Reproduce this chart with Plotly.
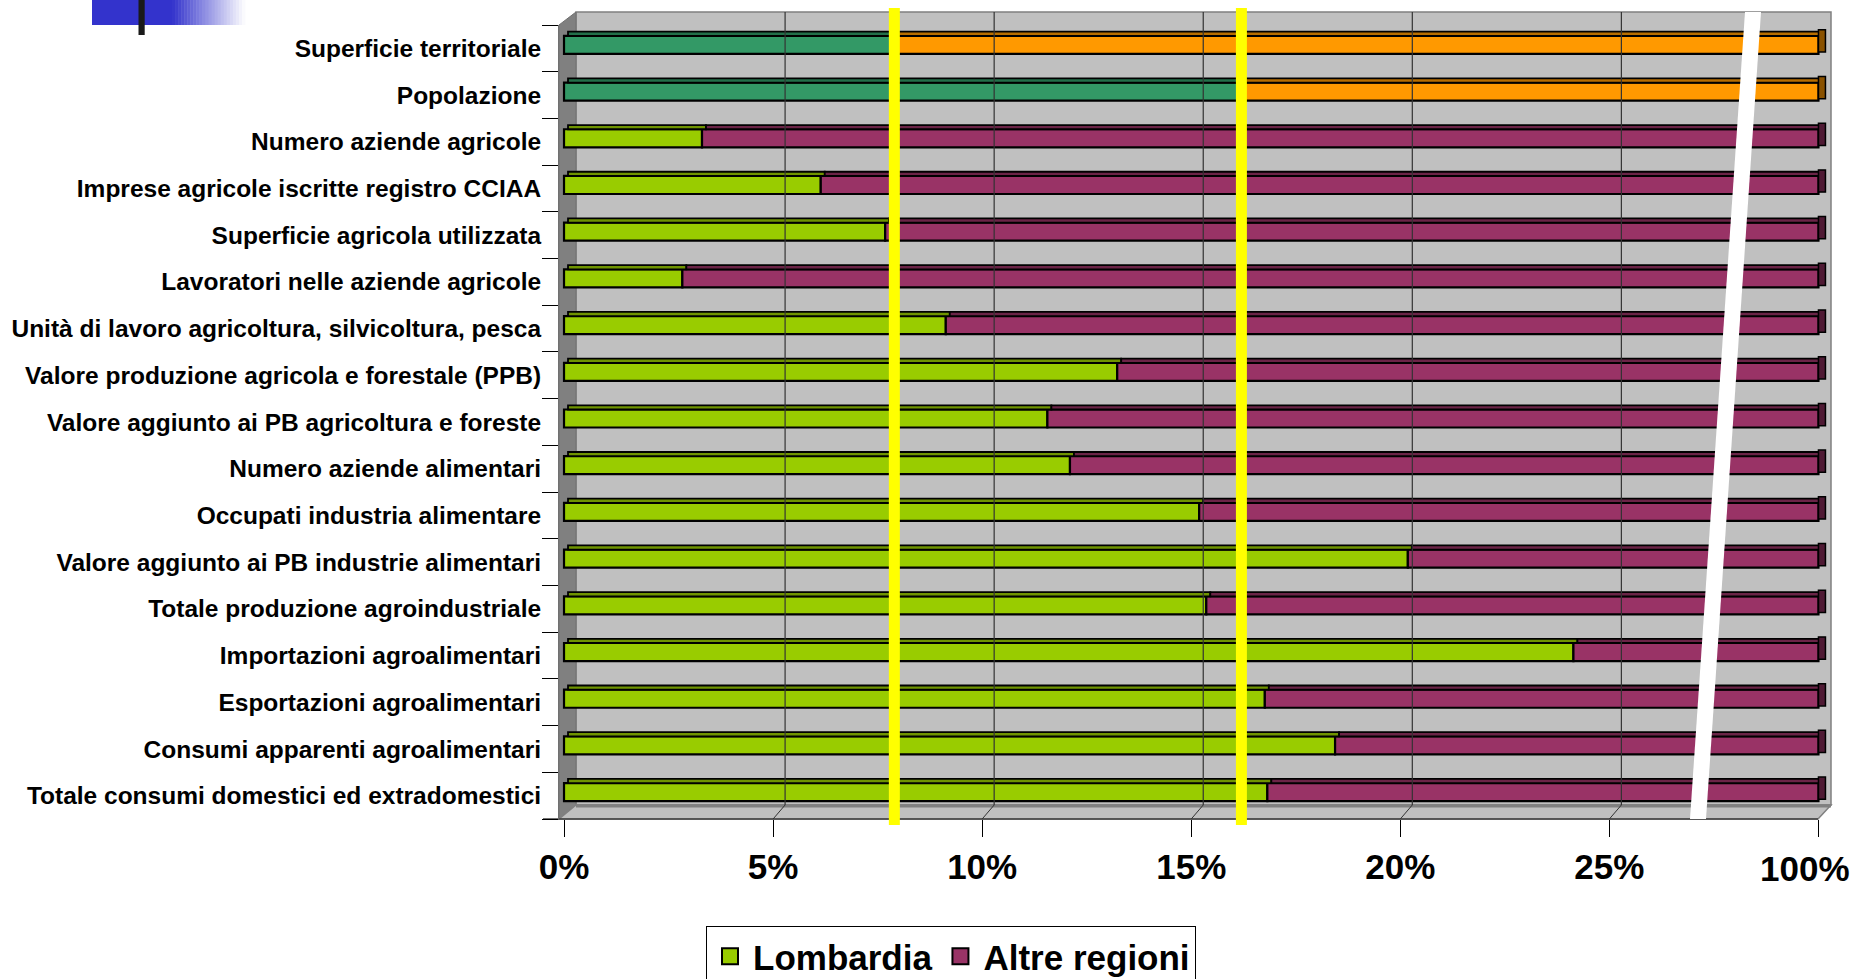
import plotly.graph_objects as go

categories = [
    "Superficie territoriale",
    "Popolazione",
    "Numero aziende agricole",
    "Imprese agricole iscritte registro CCIAA",
    "Superficie agricola utilizzata",
    "Lavoratori nelle aziende agricole",
    "Unità di lavoro agricoltura, silvicoltura, pesca",
    "Valore produzione agricola e forestale (PPB)",
    "Valore aggiunto ai PB agricoltura e foreste",
    "Numero aziende alimentari",
    "Occupati industria alimentare",
    "Valore aggiunto ai PB industrie alimentari",
    "Totale produzione agroindustriale",
    "Importazioni agroalimentari",
    "Esportazioni agroalimentari",
    "Consumi apparenti agroalimentari",
    "Totale consumi domestici ed extradomestici",
]
# quota % Lombardia / altre regioni
lombardia = [7.9, 16.2, 3.3, 6.14, 7.68, 2.83, 9.13, 13.23, 11.56, 12.1,
             15.19, 20.18, 15.36, 24.14, 16.76, 18.44, 16.82]
altre_regioni = [92.1, 83.8, 96.7, 93.86, 92.32, 97.17, 90.87, 86.77, 88.44, 87.9,
                 84.81, 79.82, 84.64, 75.86, 83.24, 81.56, 83.18]

tick_vals = [0, 5, 10, 15, 20, 25, 30]
tick_text = ["0%", "5%", "10%", "15%", "20%", "25%", "100%"]
axis_break = 30          # axis position labelled 100%
hidden = 100 - axis_break  # span 30%..100% cut out of the axis

FONT = "Arial, Liberation Sans, sans-serif"
W, H = 1857, 979
L, R, T, B = 559, 1831, 25, 819
X_MIN, X_MAX = -0.12, 30.3


def px(x):
    return (x - L) / (R - L)


def py(y):
    return (B - y) / (B - T)


def unit(pixels):
    return pixels * (X_MAX - X_MIN) / (R - L)


# 3D bar geometry (category units)
FACE_W, FACE_OFF = 0.386, -0.118
TOP_W, TOP_OFF = 0.09, 0.268
SLANT = unit(4)

rows = {
    "terr": (slice(0, 2), "#339966", "#FF9900", "#23704A", "#B86E00", "#8A5200"),
    "main": (slice(2, None), "#99CC00", "#993366", "#6F9400", "#6B2447", "#4F1A34"),
}

fig = go.Figure()
for key, (sl, c_lom, c_alt, d_lom, d_alt, cap) in rows.items():
    cats = categories[sl]
    lom = lombardia[sl]
    alt_len = [a - hidden for a in altre_regioni[sl]]
    common = dict(y=cats, orientation="h", showlegend=False, hoverinfo="skip")
    # front faces
    fig.add_trace(go.Bar(x=lom, base=[0] * len(lom), width=FACE_W, offset=FACE_OFF,
                         marker=dict(color=c_lom, line=dict(color="black", width=2.2)), **common))
    fig.add_trace(go.Bar(x=alt_len, base=lom, width=FACE_W, offset=FACE_OFF,
                         marker=dict(color=c_alt, line=dict(color="black", width=2.2)), **common))
    # top faces
    fig.add_trace(go.Bar(x=lom, base=[SLANT] * len(lom), width=TOP_W, offset=TOP_OFF,
                         marker=dict(color=d_lom, line=dict(color="black", width=1.8)), **common))
    fig.add_trace(go.Bar(x=alt_len, base=[v + SLANT for v in lom], width=TOP_W, offset=TOP_OFF,
                         marker=dict(color=d_alt, line=dict(color="black", width=1.8)), **common))
    # right end caps
    fig.add_trace(go.Bar(x=[unit(7)] * len(lom), base=[v + a for v, a in zip(lom, alt_len)],
                         width=FACE_W + TOP_W, offset=FACE_OFF + 0.04,
                         marker=dict(color=cap, line=dict(color="black", width=1.5)), **common))

# legend entries
for name, col in [("Lombardia", "#99CC00"), ("Altre regioni", "#993366")]:
    fig.add_trace(go.Scatter(x=[None], y=[None], mode="markers", name=name,
                             marker=dict(symbol="square", size=16, color=col,
                                         line=dict(color="black", width=2))))

shapes = []
# back wall, left wall, floor
shapes.append(dict(type="rect", xref="paper", yref="paper", x0=px(576), x1=px(1831),
                   y0=py(805), y1=py(12), fillcolor="#C0C0C0",
                   line=dict(color="#808080", width=1.5), layer="below"))
shapes.append(dict(type="path", xref="paper", yref="paper",
                   path=f"M{px(559)},{py(25)} L{px(576)},{py(12)} L{px(576)},{py(805)} L{px(559)},{py(819)} Z",
                   fillcolor="#808080", line=dict(color="#707070", width=1), layer="below"))
shapes.append(dict(type="path", xref="paper", yref="paper",
                   path=f"M{px(559)},{py(819)} L{px(576)},{py(805)} L{px(1831)},{py(805)} L{px(1818)},{py(819)} Z",
                   fillcolor="#C0C0C0", line=dict(color="#808080", width=1.5), layer="below"))
shapes.append(dict(type="line", xref="paper", yref="paper", x0=px(576), x1=px(1831),
                   y0=py(806), y1=py(806), line=dict(color="#808080", width=3), layer="below"))
shapes.append(dict(type="line", xref="paper", yref="paper", x0=px(543), x1=px(1818),
                   y0=py(819), y1=py(819), line=dict(color="#404040", width=1.5), layer="below"))
# gridlines on back wall + floor diagonals
back = unit(12)
for v in tick_vals[1:-1]:
    shapes.append(dict(type="line", xref="x", yref="paper", x0=v + back, x1=v + back,
                       y0=py(805), y1=py(12), line=dict(color="#333333", width=1.2)))
    shapes.append(dict(type="line", xref="x", yref="paper", x0=v, x1=v + back,
                       y0=py(819), y1=py(805), line=dict(color="#333333", width=1)))
# reference lines at territory / population share
for v in lombardia[:2]:
    shapes.append(dict(type="line", xref="x", yref="paper", x0=v, x1=v,
                       y0=py(825), y1=py(8), line=dict(color="#FFFF00", width=11), layer="above"))
# axis break slash
shapes.append(dict(type="path", xref="paper", yref="paper",
                   path=f"M{px(1745)},{py(12)} L{px(1761)},{py(12)} L{px(1706)},{py(819)} L{px(1690)},{py(819)} Z",
                   fillcolor="white", line=dict(width=0), layer="above"))
# logo in the corner
shapes.append(dict(type="rect", xref="paper", yref="paper", x0=px(92), x1=px(173),
                   y0=py(25), y1=py(0), fillcolor="#3333CC", line=dict(width=0)))
n = 24
for i in range(n):
    t = (i + 0.5) / n
    r = int(51 + (255 - 51) * t)
    b = int(204 + (255 - 204) * t)
    shapes.append(dict(type="rect", xref="paper", yref="paper",
                       x0=px(172 + i * 73 / n), x1=px(172 + (i + 1) * 73 / n + 0.5),
                       y0=py(25), y1=py(0), fillcolor=f"rgb({r},{r},{b})", line=dict(width=0)))
shapes.append(dict(type="rect", xref="paper", yref="paper", x0=px(138.5), x1=px(144.7),
                   y0=py(35), y1=py(0), fillcolor="#1A1A1A", line=dict(width=0)))

tick_font = dict(family=FONT, size=35, weight="bold", color="black")

fig.update_layout(
    width=W,
    height=H,
    margin=dict(l=L, r=W - R, t=T, b=H - B, autoexpand=False),
    paper_bgcolor="white",
    plot_bgcolor="rgba(0,0,0,0)",
    barmode="overlay",
    shapes=shapes,
    font=dict(family=FONT, color="black"),
    xaxis=dict(
        range=[X_MIN, X_MAX],
        tickvals=tick_vals,
        # last label drawn as annotation so it stays inside the page
        ticktext=tick_text[:-1] + [""],
        ticks="outside",
        ticklen=17,
        tickcolor="black",
        tickwidth=1,
        showline=False,
        showgrid=False,
        zeroline=False,
        ticklabelstandoff=0,
        tickfont=tick_font,
    ),
    yaxis=dict(
        type="category",
        categoryorder="array",
        categoryarray=categories[::-1],
        range=[-0.5, len(categories) - 0.5],
        tickson="boundaries",
        ticks="outside",
        ticklen=16,
        tickcolor="black",
        tickwidth=1,
        showline=True,
        linecolor="#707070",
        showgrid=False,
        zeroline=False,
        ticklabelstandoff=12,
        tickfont=dict(family=FONT, size=24.5, weight="bold", color="black"),
    ),
    legend=dict(
        orientation="h",
        x=px(951),
        xanchor="center",
        y=py(926),
        yanchor="top",
        bgcolor="white",
        bordercolor="black",
        borderwidth=1,
        itemwidth=36,
        font=dict(family=FONT, size=35, weight="bold", color="black"),
    ),
    annotations=[
        dict(x=tick_vals[-1], xref="x", y=py(868), yref="paper", text=tick_text[-1],
             xanchor="right", yanchor="middle", xshift=34, showarrow=False, font=tick_font)
    ],
)

fig.write_html(
    "out.html",
    config={"displayModeBar": False},
    post_script="document.body.style.margin='0';document.body.style.overflow='hidden';",
)
